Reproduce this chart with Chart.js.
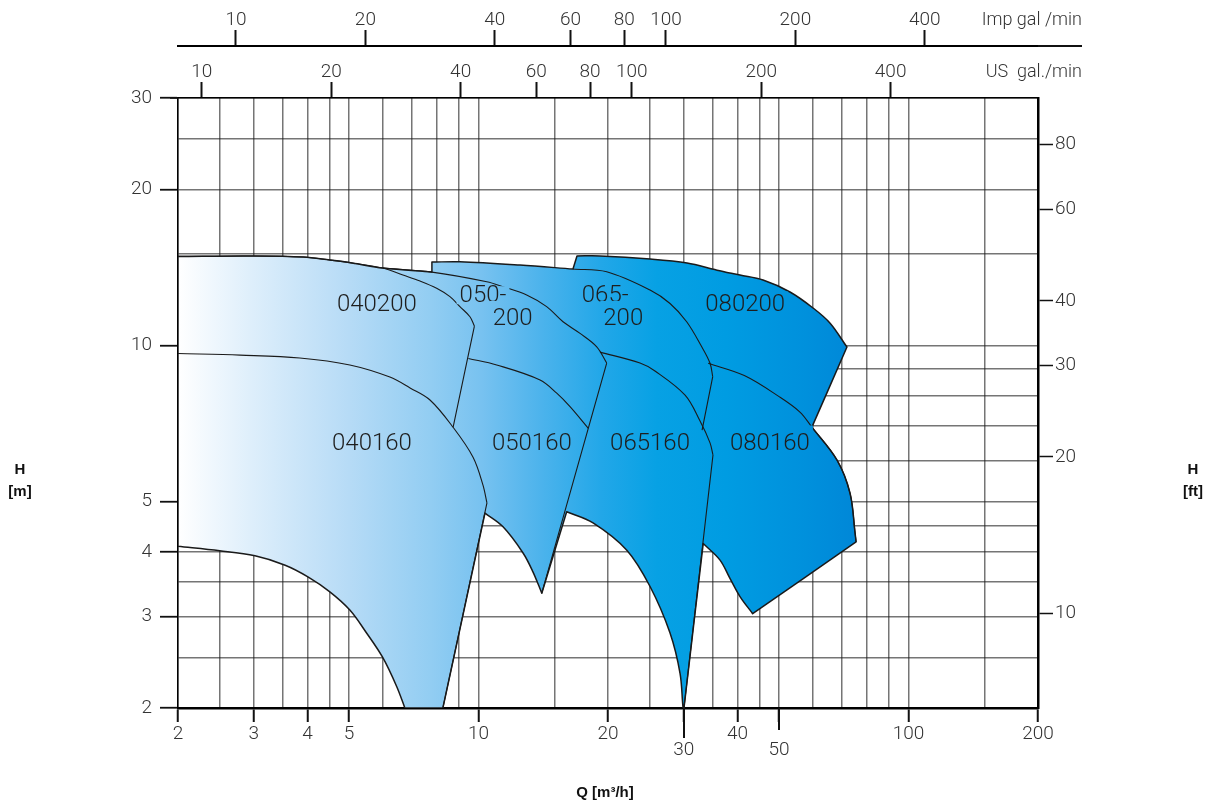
<!DOCTYPE html>
<html>
<head>
<meta charset="utf-8">
<title>Pump curves 040 - 080</title>
<script src="https://cdn.jsdelivr.net/npm/chart.js@4.4.1/dist/chart.umd.min.js"></script>
<style>
  html, body { margin: 0; padding: 0; background: #fff; }
  #wrap { width: 1213px; height: 810px; }
</style>
</head>
<body>
<div id="wrap"><canvas id="pumps" width="1213" height="810"></canvas></div>
<script>
// ----------------- AXES -----------------
const gridQ = [2, 2.5, 3, 3.5, 4, 4.5, 5, 6, 7, 8, 9, 10, 15, 20, 25, 30, 35, 40, 45, 50, 60, 70, 80, 90, 100, 150, 200];
const labelQ = [2, 3, 4, 5, 10, 20, 30, 40, 50, 100, 200];
const lowLabelQ = [30, 50];
const gridH = [2, 2.5, 3, 3.5, 4, 4.5, 5, 6, 7, 8, 9, 10, 15, 20, 25, 30];
const labelH = [2, 3, 4, 5, 10, 20, 30];
const usGpmTicks = [10, 20, 40, 60, 80, 100, 200, 400];
const impGpmTicks = [10, 20, 40, 60, 80, 100, 200, 400];
const ftTicks = [10, 20, 30, 40, 60, 80];

// unit conversions (from m3/h and m)
const US_GPM = 4.40287, IMP_GPM = 3.66615, FT = 3.28084;

// ----------------- CURVES (Q m3/h, H m) -----------------
// impeller 200
const q040_200 = [2, 2.94, 3.91, 4.51, 5.08, 5.99, 6.67, 7.31, 7.99, 8.58, 9.05, 9.55, 9.78];
const h040_200 = [14.85, 14.88, 14.81, 14.61, 14.42, 14.1, 13.67, 13.31, 12.89, 12.42, 11.88, 11.36, 10.9];
const q050_200 = [5.99, 7.79, 10.45, 11.4, 12.94, 14.4, 15.72, 17.22, 18.83, 19.86];
const h050_200 = [14.1, 13.85, 13.27, 12.98, 12.51, 11.88, 11.11, 10.55, 9.94, 9.25];
const q065_200 = [16.58, 19.86, 25.05, 27.88, 30.48, 33.04, 34.54, 35.04];
const h065_200 = [14.04, 13.87, 12.79, 12.05, 11.11, 9.94, 9.24, 8.71];
const q080_200 = [16.94, 19.16, 25.05, 30.54, 35.86, 40.55, 45.88, 53.0, 59.96, 65.7, 71.9];
const h080_200 = [14.88, 14.88, 14.68, 14.42, 13.97, 13.67, 13.37, 12.68, 11.81, 11.04, 9.93];

// impeller 160
const q040_160 = [2, 2.79, 3.84, 5.02, 6.22, 6.93, 7.71, 8.72, 9.71, 10.24, 10.46];
const h040_160 = [9.65, 9.58, 9.46, 9.17, 8.69, 8.28, 7.85, 6.96, 6.09, 5.38, 4.97];
const q050_160 = [9.47, 11.02, 13.9, 15.2, 16.32, 18.0];
const h050_160 = [9.44, 9.17, 8.58, 8.09, 7.62, 6.92];
const q065_160 = [19.16, 23.74, 25.72, 30.22, 32.74, 34.54, 35.09];
const h065_160 = [9.71, 9.25, 8.93, 8.02, 7.15, 6.49, 6.15];
const q080_160 = [34.2, 41.5, 50.2, 55.9, 59.6, 68.2, 73.1, 75.1, 75.5];
const h080_160 = [9.24, 8.75, 7.95, 7.44, 6.96, 6.01, 5.19, 4.35, 4.18];

// lower limits
const qLow040 = [2, 2.5, 3.02, 3.55, 4.01, 4.51, 5.02, 5.49, 5.99, 6.45, 6.74];
const hLow040 = [4.1, 4.02, 3.93, 3.77, 3.58, 3.35, 3.09, 2.79, 2.5, 2.2, 2.0];
const qLow050 = [10.35, 11.4, 12.69, 13.38, 14.03];
const hLow050 = [4.75, 4.47, 3.98, 3.66, 3.33];
const qLow065 = [16.03, 18.46, 22.12, 25.05, 27.88, 29.42, 29.9];
const hLow065 = [4.78, 4.55, 4.03, 3.43, 2.79, 2.33, 2.0];
const qLow080 = [33.3, 36.4, 38.4, 40.55, 43.4];
const hLow080 = [4.15, 3.86, 3.56, 3.28, 3.04];

// end lines
const qEdge040a = [9.78, 8.73], hEdge040a = [10.9, 6.97];
const qEdge040b = [10.46, 8.26], hEdge040b = [4.97, 2.0];
const qEdge050 = [19.86, 14.03], hEdge050 = [9.25, 3.33];
const qEdge065a = [35.04, 33.1], hEdge065a = [8.71, 6.87];
const qEdge065b = [35.09, 30.04], hEdge065b = [6.15, 2.0];
const qEdge080a = [71.9, 59.6], hEdge080a = [9.93, 6.96];
const qEdge080b = [75.5, 43.4], hEdge080b = [4.18, 3.04];

// top of the 050 card
const qPanel050 = [7.79, 7.79, 9.05, 12.48, 16.58];
const hPanel050 = [13.85, 14.48, 14.5, 14.29, 14.04];

// curve names
const curveNames = ['040200', '050-', '200', '065-', '200', '080200', '040160', '050160', '065160', '080160'];
const nameQ = [5.8, 10.24, 12.0, 19.7, 21.7, 41.7, 5.65, 13.3, 25.05, 47.6];
const nameH = [12.0, 12.5, 11.3, 12.5, 11.3, 12.0, 6.5, 6.5, 6.5, 6.5];

// ----------------- STYLE -----------------
const FONT = "Roboto, 'Liberation Sans', Arial, sans-serif";
const gridCol = 'rgba(25,25,25,0.6)';
const lineCol = '#1a1a1a';
const fillStops = [
  [0, '#ffffff'], [0.11, '#ddeefb'], [0.25, '#b6dbf6'], [0.37, '#92cdf2'],
  [0.443, '#78c2f0'], [0.531, '#4cb3ec'], [0.619, '#22a7e8'], [0.70, '#07a1e4'],
  [0.80, '#009ce2'], [0.92, '#0090dc'], [1, '#0086d7']
];

function pts(q, h) {
  return q.map((v, i) => ({ x: v, y: h[i] }));
}
const first = a => a[0];
const last = a => a[a.length - 1];

function blueGradient(chart) {
  const { ctx, chartArea, scales } = chart;
  if (!chartArea || !scales.x) return null;
  const x0 = scales.x.getPixelForValue(2);
  const x1 = scales.x.getPixelForValue(78);
  const g = ctx.createLinearGradient(x0, 0, x1, 0);
  fillStops.forEach(([p, c]) => g.addColorStop(p, c));
  return g;
}

// whole coloured area, walked round its outer edge.
// every piece repeats the joint point so corners stay sharp with tension on
const top040 = pts(q040_200, h040_200).slice(0, 6).concat(pts(q050_200, h050_200).slice(1, 2));
const panel = pts(qPanel050, hPanel050);
const top080 = pts(q080_200, h080_200);
const low040 = pts(qLow040, hLow040), low050 = pts(qLow050, hLow050);
const low065 = pts(qLow065, hLow065), low080 = pts(qLow080, hLow080);
const e040b = pts(qEdge040b, hEdge040b), e050 = pts(qEdge050, hEdge050);
const e065b = pts(qEdge065b, hEdge065b);
const e080a = pts(qEdge080a, hEdge080a), e080b = pts(qEdge080b, hEdge080b);

const outline = [
  top040,
  panel.slice(0, 2),
  panel.slice(1),
  [last(panel), first(top080)],
  top080,
  e080a,
  pts(q080_160, h080_160).filter(p => p.x >= last(qEdge080a)),
  e080b,
  low080.slice().reverse(),
  [first(low080), last(e065b)],
  [last(e065b)].concat(low065.slice().reverse()),
  [first(low065), last(e050)],
  low050.slice().reverse(),
  [first(low050), last(e040b)],
  [last(e040b), last(low040)],
  low040.slice().reverse(),
  [first(low040), first(top040)]
].flat();

const innerLines = [
  [q040_200, h040_200], [q050_200, h050_200], [q065_200, h065_200],
  [q040_160, h040_160], [q050_160, h050_160], [q065_160, h065_160], [q080_160, h080_160],
  [qEdge040a, hEdge040a], [qEdge040b, hEdge040b], [qEdge050, hEdge050],
  [qEdge065a, hEdge065a], [qEdge065b, hEdge065b]
];

const datasets = [{
  data: outline,
  fill: 'shape',
  backgroundColor: c => blueGradient(c.chart) || 'rgba(0,0,0,0)',
  borderColor: lineCol,
  borderWidth: 1.5,
  borderJoinStyle: 'round',
  pointRadius: 0,
  tension: 0.35,
  order: 10
}].concat(innerLines.map(([q, h]) => ({
  data: pts(q, h),
  fill: false,
  borderColor: lineCol,
  borderWidth: 1.1,
  pointRadius: 0,
  tension: 0.35,
  order: 0
})));

// ----------------- DECOR PLUGIN -----------------
const decor = {
  id: 'decor',
  afterDraw(chart) {
    const { ctx, scales, chartArea } = chart;
    const { x, y, xImp, xUS } = scales;
    const grad = blueGradient(chart);
    ctx.save();

    // curve names on a box that hides the grid
    ctx.font = '300 24px ' + FONT;
    ctx.textAlign = 'center';
    ctx.textBaseline = 'middle';
    curveNames.forEach((t, i) => {
      const px = x.getPixelForValue(nameQ[i]);
      const py = y.getPixelForValue(nameH[i]);
      const w = ctx.measureText(t).width + 6;
      const hh = (t === '050-' || t === '065-') ? 9 : (t === '080200' ? 13 : 17);
      ctx.fillStyle = grad;
      ctx.fillRect(px - w / 2, py - hh, w, hh * 2);
      ctx.fillStyle = '#1e1e1e';
      ctx.fillText(t, px, py + 1);
    });

    // longer ticks under 30 and 50
    ctx.strokeStyle = '#111';
    ctx.lineWidth = 2;
    [[30, 30], [50, 22]].forEach(([v, len]) => {
      const px = Math.round(x.getPixelForValue(v));
      ctx.beginPath();
      ctx.moveTo(px, chartArea.bottom);
      ctx.lineTo(px, chartArea.bottom + len);
      ctx.stroke();
    });

    // Imp axis line runs on past the plot
    ctx.lineWidth = 2;
    ctx.beginPath();
    ctx.moveTo(chartArea.right, xImp.bottom);
    ctx.lineTo(1082, xImp.bottom);
    ctx.stroke();
    ctx.lineWidth = 1.5;
    ctx.beginPath();
    ctx.moveTo(170, xUS.bottom);
    ctx.lineTo(chartArea.left, xUS.bottom);
    ctx.stroke();

    // unit names of the top axes
    ctx.fillStyle = '#333';
    ctx.font = '300 18px ' + FONT;
    ctx.textAlign = 'right';
    ctx.fillText('Imp gal /min', 1082, 20);
    ctx.fillText('US  gal./min', 1082, 72);

    // axis titles
    ctx.fillStyle = '#111';
    ctx.font = "bold 15px 'Liberation Sans', Arial, sans-serif";
    ctx.textAlign = 'center';
    ctx.fillText('H', 20, 470);
    ctx.fillText('[m]', 20, 492);
    ctx.fillText('H', 1193, 470);
    ctx.fillText('[ft]', 1193, 492);
    ctx.fillText('Q [m³/h]', 605, 793);
    ctx.restore();
  }
};

// ----------------- CHART -----------------
const tickFont = { family: FONT, size: 19, weight: '300', lineHeight: 0.8 };

new Chart(document.getElementById('pumps'), {
  type: 'line',
  data: { datasets },
  options: {
    responsive: false,
    devicePixelRatio: 1,
    animation: false,
    events: [],
    layout: { padding: 0 },
    plugins: { legend: { display: false }, tooltip: { enabled: false } },
    scales: {
      x: {
        type: 'logarithmic', position: 'bottom', min: 2, max: 200, z: 1,
        afterBuildTicks: s => { s.ticks = gridQ.map(v => ({ value: v })); },
        afterFit: s => { s.height = 102; },
        ticks: {
          autoSkip: false, maxRotation: 0, padding: 5, color: '#333', font: tickFont,
          callback: v => lowLabelQ.includes(v) ? ['', String(v)] : (labelQ.includes(v) ? String(v) : '')
        },
        grid: {
          color: gridCol, lineWidth: 1.5, tickLength: 14, tickWidth: 2,
          tickColor: c => (c.tick && labelQ.includes(c.tick.value)) ? '#111' : 'rgba(0,0,0,0)'
        },
        border: { color: '#000', width: 2.5 }
      },
      y: {
        type: 'logarithmic', position: 'left', min: 2, max: 30, z: 1,
        afterBuildTicks: s => { s.ticks = gridH.map(v => ({ value: v })); },
        afterFit: s => { s.width = 178; },
        ticks: {
          autoSkip: false, padding: 8, color: '#333', font: tickFont,
          callback: v => labelH.includes(v) ? String(v) : ''
        },
        grid: {
          color: gridCol, lineWidth: 1.5, tickLength: 18, tickWidth: 1.8,
          tickColor: c => (c.tick && labelH.includes(c.tick.value)) ? '#111' : 'rgba(0,0,0,0)'
        },
        border: { color: '#000', width: 1.5 }
      },
      yFt: {
        type: 'logarithmic', position: 'right', min: 2 * FT, max: 30 * FT,
        afterBuildTicks: s => { s.ticks = ftTicks.map(v => ({ value: v })); },
        afterFit: s => { s.width = 175; },
        ticks: { autoSkip: false, padding: 2, color: '#333', font: tickFont, callback: v => String(v) },
        grid: { drawOnChartArea: false, tickLength: 15, tickWidth: 1.5, tickColor: '#111' },
        border: { color: '#000', width: 2.5 }
      },
      xUS: {
        type: 'logarithmic', position: 'top', weight: 0, min: 2 * US_GPM, max: 200 * US_GPM,
        afterBuildTicks: s => { s.ticks = usGpmTicks.map(v => ({ value: v })); },
        afterFit: s => { s.height = 52; },
        ticks: { autoSkip: false, maxRotation: 0, padding: 2, color: '#333', font: tickFont, callback: v => String(v) },
        grid: { drawOnChartArea: false, tickLength: 16, tickWidth: 2, tickColor: '#111' },
        border: { color: '#000', width: 1.5 }
      },
      xImp: {
        type: 'logarithmic', position: 'top', weight: 1, min: 2 * IMP_GPM, max: 200 * IMP_GPM,
        afterBuildTicks: s => { s.ticks = impGpmTicks.map(v => ({ value: v })); },
        afterFit: s => { s.height = 46; },
        ticks: { autoSkip: false, maxRotation: 0, padding: 2, color: '#333', font: tickFont, callback: v => String(v) },
        grid: { drawOnChartArea: false, tickLength: 16, tickWidth: 2, tickColor: '#111' },
        border: { color: '#000', width: 2 }
      }
    }
  },
  plugins: [decor]
});
</script>
</body>
</html>
